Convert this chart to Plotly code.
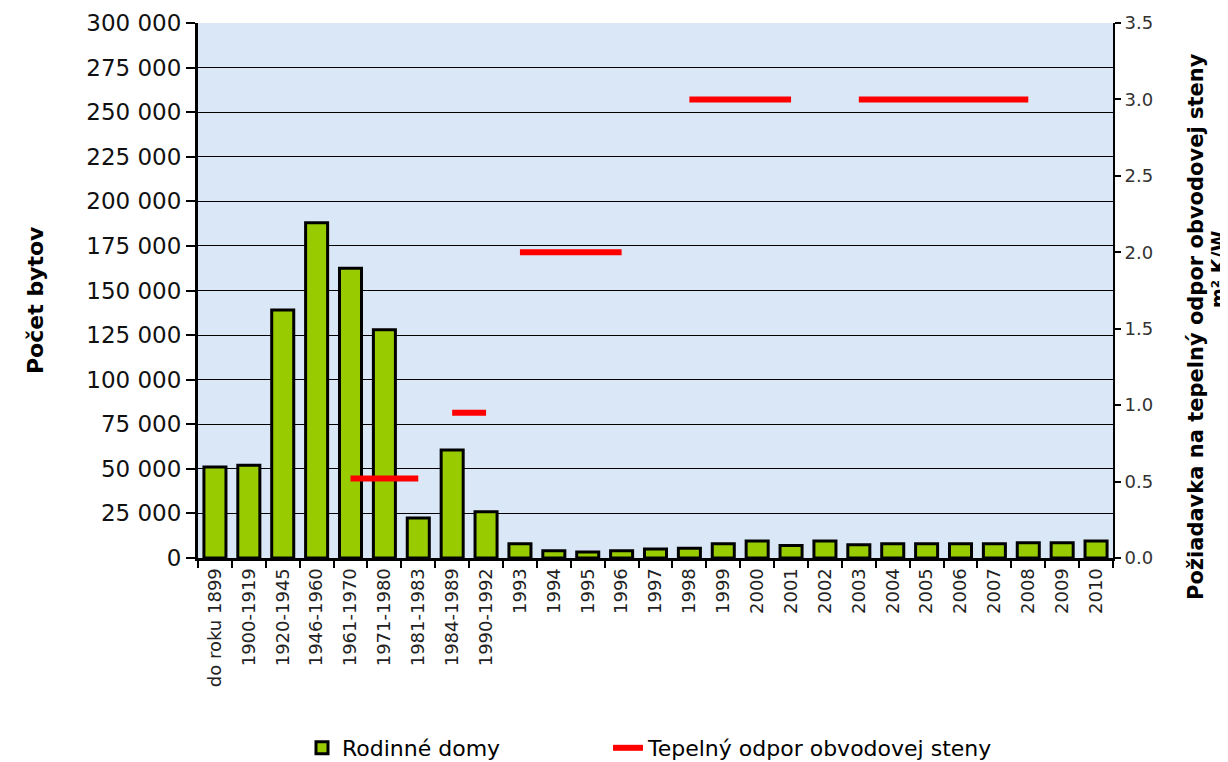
import plotly.graph_objects as go

categories = ["do roku 1899", "1900-1919", "1920-1945", "1946-1960", "1961-1970",
              "1971-1980", "1981-1983", "1984-1989", "1990-1992", "1993", "1994",
              "1995", "1996", "1997", "1998", "1999", "2000", "2001", "2002", "2003",
              "2004", "2005", "2006", "2007", "2008", "2009", "2010"]
dwellings = [51000, 52000, 139000, 188000, 162500, 128000, 22500, 60500, 26000,
             8000, 4000, 3300, 4000, 5000, 5500, 8000, 9500, 7000, 9500, 7500,
             8000, 8000, 8000, 8000, 8500, 8500, 9500]
resistance = [None, None, None, None, 0.52, 0.52, 0.52, 0.95, 0.95, 2.0, 2.0, 2.0, 2.0,
              None, 3.0, 3.0, 3.0, 3.0, None, 3.0, 3.0, 3.0, 3.0, 3.0, 3.0, None, None]
left_ticks = [0, 25000, 50000, 75000, 100000, 125000, 150000, 175000, 200000,
              225000, 250000, 275000, 300000]
left_title = "Počet bytov"
right_title_lines = ["Požiadavka na tepelný odpor obvodovej steny", "m² K/W"]

FONT = "DejaVu Sans, Arial, sans-serif"
W, H = 1228, 762
ML, MR, MT, MB = 190, 123, 15, 212
PW, PH = W - ML - MR, H - MT - MB

fig = go.Figure()
fig.add_trace(go.Bar(
    x=categories, y=dwellings, name="Rodinné domy",
    marker=dict(color="#99cc00", line=dict(color="black", width=3)),
    legend="legend",
))

# split resistance requirement into constant runs
runs = []
cur = None
for c, v in zip(categories, resistance):
    if v is None:
        cur = None
        continue
    if cur is not None and cur[1] == v:
        cur[0].append(c)
    else:
        cur = [[c], v]
        runs.append(cur)

for i, (cats, v) in enumerate(runs):
    fig.add_trace(go.Scatter(
        x=cats, y=[v] * len(cats), mode="lines", yaxis="y2",
        name="Tepelný odpor obvodovej steny",
        line=dict(color="#ff0000", width=6),
        legendgroup="req", showlegend=(i == 0), legend="legend2",
    ))

def px_x(x):
    return (x - ML) / PW

def px_y(y):
    return (H - MB - y) / PH

# axis titles placed as rotated annotations
fig.add_annotation(text="<b>" + left_title + "</b>", textangle=-90,
                   xref="paper", yref="paper", x=px_x(27), y=px_y(292),
                   xanchor="center", yanchor="middle", showarrow=False,
                   font=dict(size=22, color="black", family=FONT))
fig.add_annotation(text="<b>" + right_title_lines[0] + "</b>", textangle=-90,
                   xref="paper", yref="paper", x=px_x(1188), y=px_y(319),
                   xanchor="center", yanchor="middle", showarrow=False,
                   font=dict(size=21, color="black", family=FONT))
fig.add_annotation(text="<b>" + right_title_lines[1] + "</b>", textangle=-90,
                   xref="paper", yref="paper", x=px_x(1210), y=px_y(262),
                   xanchor="center", yanchor="middle", showarrow=False,
                   font=dict(size=19, color="black", family=FONT))

fig.update_layout(
    width=W, height=H,
    margin=dict(l=ML, r=MR, t=MT, b=MB),
    paper_bgcolor="white",
    plot_bgcolor="#d9e7f7",
    separators=". ",
    font=dict(family=FONT, size=19, color="#111"),
    bargap=0.35,
    xaxis=dict(
        type="category", tickangle=-90, tickson="boundaries",
        ticks="outside", ticklen=7, tickwidth=2, tickcolor="black",
        tickfont=dict(size=18, color="#222"),
        showline=True, linecolor="black", linewidth=3, mirror=False,
        showgrid=False, automargin=False,
    ),
    yaxis=dict(
        range=[0, 300000], tickvals=left_ticks, tickformat=",d",
        ticks="outside", ticklen=9, tickwidth=1.5, tickcolor="black",
        showline=True, linecolor="black", linewidth=3,
        showgrid=True, gridcolor="black", gridwidth=1,
        zeroline=False, automargin=False,
        tickfont=dict(size=23, color="#111"),
    ),
    yaxis2=dict(
        overlaying="y", side="right", range=[0, 3.5], dtick=0.5, tickformat=".1f",
        ticks="outside", ticklen=6, tickwidth=1.5, tickcolor="black",
        showline=True, linecolor="black", linewidth=2,
        showgrid=False, zeroline=False, automargin=False,
        tickfont=dict(size=18, color="#333"),
    ),
    legend=dict(orientation="h", xref="container", yref="container",
                x=294 / W, y=(H - 740) / H, xanchor="left", yanchor="middle",
                font=dict(size=22, color="black"), bgcolor="rgba(0,0,0,0)"),
    legend2=dict(orientation="h", xref="container", yref="container",
                 x=600 / W, y=(H - 740) / H, xanchor="left", yanchor="middle",
                 font=dict(size=22, color="black"), bgcolor="rgba(0,0,0,0)"),
    showlegend=True,
)

fig.write_html("out.html")
